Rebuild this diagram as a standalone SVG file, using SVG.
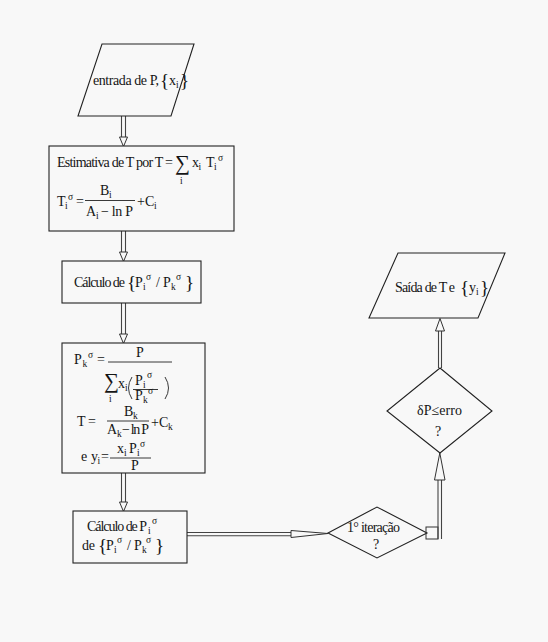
<svg xmlns="http://www.w3.org/2000/svg" width="548" height="642" viewBox="0 0 548 642">
<style>
text{font-family:"Liberation Serif","Times New Roman",serif;font-size:14px;fill:#151515}
.s{font-size:9.5px}
.b{font-size:19px}
.sig{font-size:21px}
.shape{fill:#f8f8f8;stroke:#222;stroke-width:1.1}
.ln{stroke:#333;stroke-width:1;fill:none}
.sh{stroke:#444;stroke-width:1.1;fill:none}
.hd{fill:#f8f8f8;stroke:#333;stroke-width:1}
.fr{stroke:#222;stroke-width:0.9;fill:none}
</style>
<rect x="0" y="0" width="548" height="642" fill="#f8f8f8"/>

<g id="connectors">
  <line class="sh" x1="121.5" y1="116" x2="121.5" y2="137"/>
  <line class="sh" x1="125.5" y1="116" x2="125.5" y2="137"/>
  <polygon class="hd" points="119.5,137 127.5,137 123.5,146.5"/>
  <line class="sh" x1="121.5" y1="231" x2="121.5" y2="252"/>
  <line class="sh" x1="125.5" y1="231" x2="125.5" y2="252"/>
  <polygon class="hd" points="119.5,252 127.5,252 123.5,261.5"/>
  <line class="sh" x1="121.5" y1="303" x2="121.5" y2="334"/>
  <line class="sh" x1="125.5" y1="303" x2="125.5" y2="334"/>
  <polygon class="hd" points="119.5,334 127.5,334 123.5,343.5"/>
  <line class="sh" x1="121.5" y1="473" x2="121.5" y2="502"/>
  <line class="sh" x1="125.5" y1="473" x2="125.5" y2="502"/>
  <polygon class="hd" points="119.5,502 127.5,502 123.5,511.5"/>
  <line class="sh" x1="187" y1="532.5" x2="291" y2="532.5"/>
  <line class="sh" x1="187" y1="535.8" x2="291" y2="535.8"/>
  <polygon class="hd" points="291,530.5 291,537.5 328,533.5"/>
  <rect class="ln" x="426" y="527" width="12" height="12"/>
  <line class="sh" x1="438" y1="539" x2="438" y2="480"/>
  <line class="sh" x1="441.5" y1="539" x2="441.5" y2="480"/>
  <polygon class="hd" points="434.5,480 445,480 439.8,453"/>
  <line class="sh" x1="438.5" y1="368" x2="438.5" y2="331"/>
  <line class="sh" x1="441.5" y1="368" x2="441.5" y2="331"/>
  <polygon class="hd" points="435.5,331 444.5,331 440,318.5"/>
</g>

<g id="n_entrada">
  <polygon class="shape" points="102,44 194,44 171,116 78,116"/>
  <text x="93" y="85" textLength="66">entrada de P,</text>
  <text x="160" y="87" class="b">{</text>
  <text x="169" y="85">x</text>
  <text x="176" y="88" class="s">i</text>
  <text x="180" y="87" class="b">}</text>
</g>

<g id="n_estimativa">
  <rect class="shape" x="49" y="146" width="185" height="85"/>
  <text x="57" y="167" textLength="116">Estimativa de T por T =</text>
  <text x="175" y="170" class="sig">∑</text>
  <text x="180" y="184" class="s">i</text>
  <text x="192" y="167">x</text>
  <text x="198.5" y="170" class="s">i</text>
  <text x="206" y="167">T</text>
  <text x="214" y="170" class="s">i</text>
  <text x="218" y="161" class="s">σ</text>
  <text x="57" y="206">T</text>
  <text x="65" y="209" class="s">i</text>
  <text x="68" y="200" class="s">σ</text>
  <text x="76" y="206">=</text>
  <text x="100" y="195">B</text>
  <text x="109" y="198" class="s">i</text>
  <line class="fr" x1="85" y1="200.5" x2="135" y2="200.5"/>
  <text x="86" y="216">A</text>
  <text x="96" y="219" class="s">i</text>
  <text x="101" y="216" textLength="32">− ln P</text>
  <text x="137" y="206">+C</text>
  <text x="154" y="209" class="s">i</text>
</g>

<g id="n_calculo1">
  <rect class="shape" x="62" y="261" width="139" height="42"/>
  <text x="74" y="287" textLength="51">Cálculo de</text>
  <text x="127" y="289" class="b">{</text>
  <text x="135" y="287">P</text>
  <text x="143" y="290" class="s">i</text>
  <text x="146" y="280" class="s">σ</text>
  <text x="156" y="287">/</text>
  <text x="163" y="287">P</text>
  <text x="171" y="290" class="s">k</text>
  <text x="176" y="280" class="s">σ</text>
  <text x="185" y="289" class="b">}</text>
</g>

<g id="n_calculo2">
  <rect class="shape" x="62" y="343" width="143" height="130"/>
  <text x="74" y="364">P</text>
  <text x="82.5" y="367" class="s">k</text>
  <text x="88" y="358" class="s">σ</text>
  <text x="97" y="364">=</text>
  <text x="136" y="357">P</text>
  <line class="fr" x1="108" y1="362" x2="172" y2="362"/>
  <text x="104" y="388" class="sig">∑</text>
  <text x="109" y="402" class="s">i</text>
  <text x="118" y="388">x</text>
  <text x="125" y="391" class="s">i</text>
  <path class="fr" d="M132,377 Q125,388 132,399"/>
  <path class="fr" d="M165,377 Q172,388 165,399"/>
  <text x="135" y="385">P</text>
  <text x="143" y="388" class="s">i</text>
  <text x="147" y="378" class="s">σ</text>
  <line class="fr" x1="133" y1="389.5" x2="158" y2="389.5"/>
  <text x="135" y="400">P</text>
  <text x="143" y="403" class="s">k</text>
  <text x="148" y="394" class="s">σ</text>
  <text x="77" y="426" textLength="19">T =</text>
  <text x="124" y="416">B</text>
  <text x="133" y="419" class="s">k</text>
  <line class="fr" x1="107" y1="421" x2="149" y2="421"/>
  <text x="107" y="434">A</text>
  <text x="117" y="437" class="s">k</text>
  <text x="122" y="434" textLength="27">− ln P</text>
  <text x="151" y="427">+C</text>
  <text x="168" y="430" class="s">k</text>
  <text x="81" y="461">e</text>
  <text x="91" y="461">y</text>
  <text x="97.5" y="464" class="s">i</text>
  <text x="101" y="461">=</text>
  <text x="117" y="453">x</text>
  <text x="124" y="456" class="s">i</text>
  <text x="129" y="453">P</text>
  <text x="137" y="456" class="s">i</text>
  <text x="140" y="447" class="s">σ</text>
  <line class="fr" x1="110" y1="458" x2="151" y2="458"/>
  <text x="131" y="470">P</text>
</g>

<g id="n_calculo3">
  <rect class="shape" x="73" y="511" width="114" height="52"/>
  <text x="87" y="531" textLength="60">Cálculo de P</text>
  <text x="148" y="534" class="s">i</text>
  <text x="152" y="524" class="s">σ</text>
  <text x="82" y="550" textLength="13">de</text>
  <text x="98" y="552" class="b">{</text>
  <text x="106" y="550">P</text>
  <text x="114" y="553" class="s">i</text>
  <text x="117" y="543" class="s">σ</text>
  <text x="127" y="550">/</text>
  <text x="134" y="550">P</text>
  <text x="142" y="553" class="s">k</text>
  <text x="146" y="543" class="s">σ</text>
  <text x="155" y="552" class="b">}</text>
</g>

<g id="n_iteracao">
  <polygon class="shape" points="328,533 377,507 427,533 377,558"/>
  <text x="347" y="532" textLength="53">1° iteração</text>
  <text x="376" y="549" text-anchor="middle">?</text>
</g>

<g id="n_erro">
  <polygon class="shape" points="440,368 492,411 440,453 387,411"/>
  <text x="417" y="415" textLength="45">δP≤erro</text>
  <text x="438" y="436" text-anchor="middle">?</text>
</g>

<g id="n_saida">
  <polygon class="shape" points="398,253 505,253 478,318 369,318"/>
  <text x="395" y="292" textLength="60">Saída de T e</text>
  <text x="460" y="294" class="b">{</text>
  <text x="469" y="292">y</text>
  <text x="476" y="295" class="s">i</text>
  <text x="480" y="294" class="b">}</text>
</g>
</svg>
